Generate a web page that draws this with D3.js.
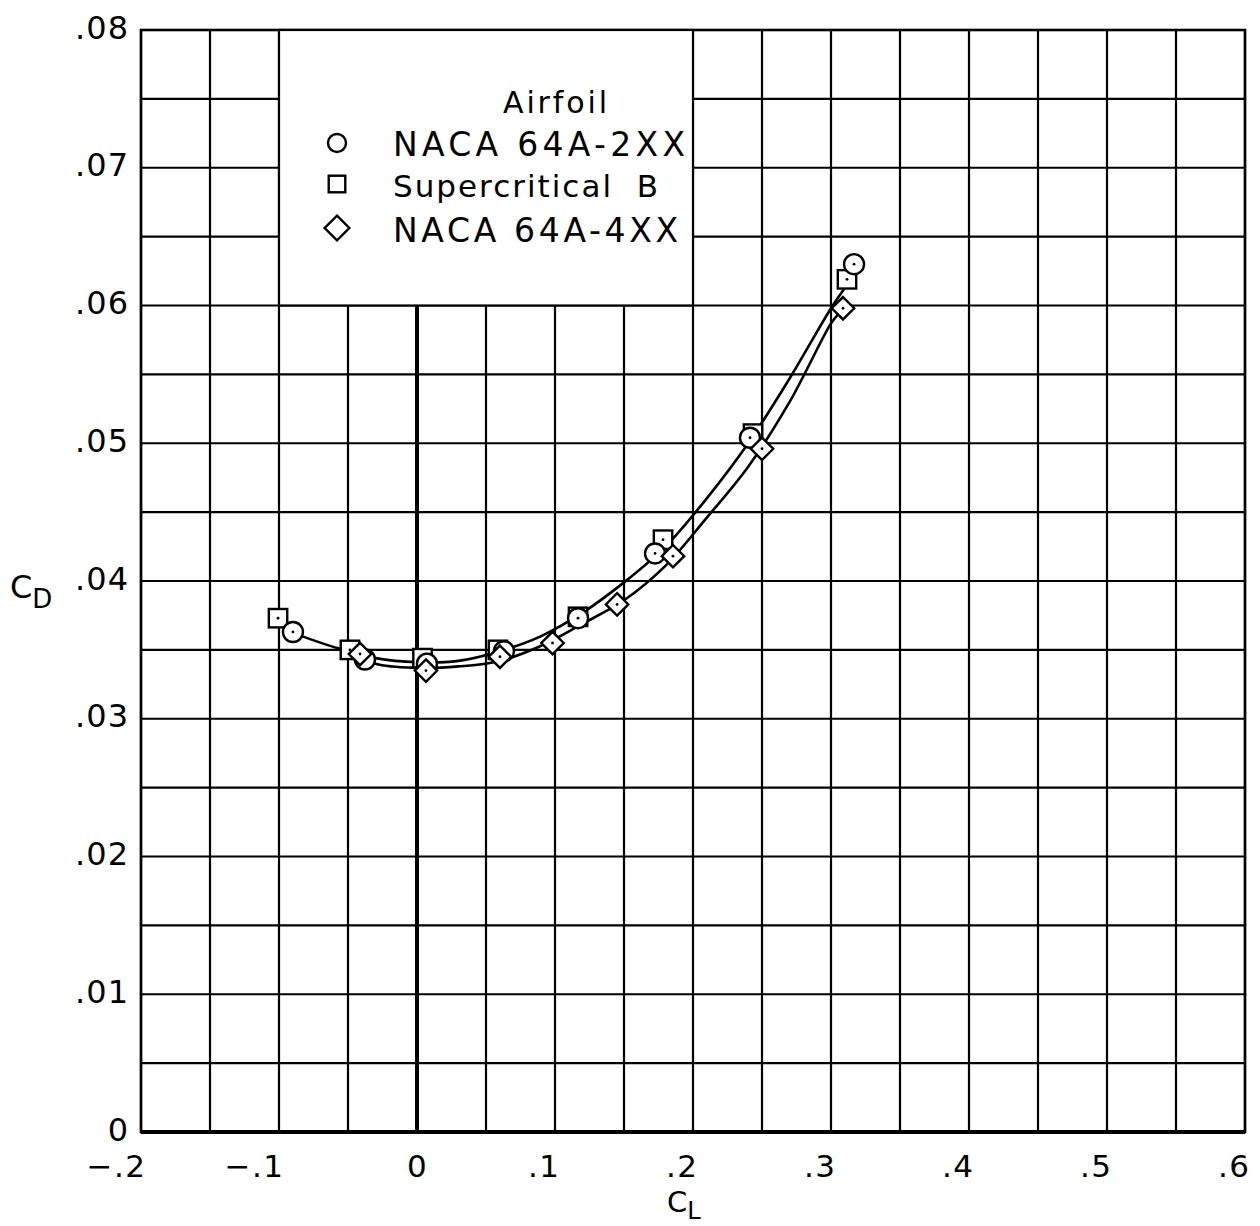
<!DOCTYPE html>
<html>
<head>
<meta charset="utf-8">
<script src="https://cdn.jsdelivr.net/npm/d3@7"></script>
<style>
  html, body { margin: 0; padding: 0; background: #fff; }
  svg { display: block; }
  text { font-family: "DejaVu Sans", sans-serif; fill: #000; }
</style>
</head>
<body>
<svg id="chart" width="1260" height="1226"></svg>
<script>
// ---- Data ----
const xTicks = [-0.2, -0.1, 0, 0.1, 0.2, 0.3, 0.4, 0.5, 0.6];
const xTickLabels = ["\u2212.2", "\u2212.1", "0", ".1", ".2", ".3", ".4", ".5", ".6"];
const yTicks = [0, 0.01, 0.02, 0.03, 0.04, 0.05, 0.06, 0.07, 0.08];
const yTickLabels = ["0", ".01", ".02", ".03", ".04", ".05", ".06", ".07", ".08"];

const seriesNames = ["NACA 64A-2XX", "Supercritical  B", "NACA 64A-4XX"];
const seriesSymbols = ["circle", "square", "diamond"];

// measured points [CL, CD]
const naca2xx = [
  [-0.0899, 0.0363], [-0.0377, 0.0343], [0.0072, 0.0340], [0.0630, 0.0349],
  [0.1167, 0.0373], [0.1725, 0.0420], [0.2413, 0.0504], [0.3167, 0.0630]
];
const superB = [
  [-0.1007, 0.0373], [-0.0486, 0.0350], [0.0040, 0.0344], [0.0587, 0.0350],
  [0.1167, 0.0374], [0.1783, 0.0430], [0.2435, 0.0507], [0.3116, 0.0619]
];
const naca4xx = [
  [-0.0413, 0.0347], [0.0065, 0.0335], [0.0601, 0.0345], [0.0982, 0.0355],
  [0.1450, 0.0383], [0.1855, 0.0418], [0.2500, 0.0496], [0.3087, 0.0598]
];

// faired curves [CL, CD]
const upperCurve = [
  [-0.0835, 0.0360], [-0.06, 0.0352], [-0.03, 0.0344], [0, 0.0341], [0.03, 0.0342],
  [0.06, 0.0349], [0.09, 0.0360], [0.12, 0.0377], [0.15, 0.0399], [0.18, 0.0425],
  [0.21, 0.0460], [0.24, 0.0500], [0.27, 0.0547], [0.30, 0.0598], [0.3095, 0.0612]
];
const lowerCurve = [
  [-0.05, 0.0350], [-0.03, 0.0340], [0, 0.0337], [0.03, 0.0338], [0.06, 0.0342],
  [0.09, 0.0353], [0.12, 0.0369], [0.15, 0.0386], [0.18, 0.0411], [0.21, 0.0446],
  [0.24, 0.0483], [0.27, 0.0530], [0.30, 0.0587], [0.3055, 0.0594]
];

// ---- Scales ----
const svg = d3.select("#chart");
const x = d3.scaleLinear().domain([-0.2, 0.6]).range([141, 1245]);
const y = d3.scaleLinear().domain([0, 0.08]).range([1132, 30]);

// ---- Grid ----
const gridX = d3.range(0, 17).map(i => -0.2 + i * 0.05);
const gridY = d3.range(0, 17).map(i => i * 0.005);
const grid = svg.append("g");
grid.selectAll("line.vx").data(gridX).join("line")
  .attr("x1", d => x(d)).attr("x2", d => x(d))
  .attr("y1", y(0.08)).attr("y2", y(0))
  .attr("stroke", "#000").attr("stroke-width", 2.2);
grid.selectAll("line.hy").data(gridY).join("line")
  .attr("x1", x(-0.2)).attr("x2", x(0.6))
  .attr("y1", d => y(d)).attr("y2", d => y(d))
  .attr("stroke", "#000").attr("stroke-width", 2.2);

// border
svg.append("rect")
  .attr("x", x(-0.2)).attr("y", y(0.08))
  .attr("width", x(0.6) - x(-0.2)).attr("height", y(0) - y(0.08))
  .attr("fill", "none").attr("stroke", "#000").attr("stroke-width", 2.6);
// heavy axes lines
svg.append("line")
  .attr("x1", x(-0.2)).attr("x2", x(0.6)).attr("y1", y(0)).attr("y2", y(0))
  .attr("stroke", "#000").attr("stroke-width", 4);
svg.append("line")
  .attr("x1", x(0)).attr("x2", x(0)).attr("y1", y(0.06)).attr("y2", y(0))
  .attr("stroke", "#000").attr("stroke-width", 4);

// ---- Legend box ----
svg.append("rect")
  .attr("x", x(-0.1)).attr("y", y(0.08))
  .attr("width", x(0.2) - x(-0.1)).attr("height", y(0.06) - y(0.08))
  .attr("fill", "#fff").attr("stroke", "#000").attr("stroke-width", 2.2);

// ---- Axis tick labels ----
const xAxis = d3.axisBottom(x).tickValues(xTicks).tickSize(0)
  .tickFormat((d, i) => xTickLabels[i]);
const gx = svg.append("g").attr("transform", `translate(0,${y(0)})`).call(xAxis);
gx.select(".domain").remove();
gx.selectAll("text")
  .attr("font-family", "DejaVu Sans").attr("font-size", 31)
  .attr("fill", "#000")
  .attr("y", 45).attr("dy", 0)
  .attr("text-anchor", (d) => d === 0 ? "middle" : "end")
  .attr("x", (d) => d === 0 ? 0 : 5)
  .style("letter-spacing", "1.5px");

const yAxis = d3.axisLeft(y).tickValues(yTicks).tickSize(0)
  .tickFormat((d, i) => yTickLabels[i]);
const gy = svg.append("g").attr("transform", `translate(${x(-0.2)},0)`).call(yAxis);
gy.select(".domain").remove();
gy.selectAll("text")
  .attr("font-family", "DejaVu Sans").attr("font-size", 32)
  .attr("fill", "#000")
  .attr("x", -12).attr("dy", 0).attr("y", 8)
  .attr("text-anchor", "end")
  .style("letter-spacing", "1px");

// axis titles
const cd = svg.append("text").attr("x", 10).attr("y", 598).attr("font-size", 32);
cd.append("tspan").text("C");
cd.append("tspan").attr("font-size", 26).attr("dy", 10).text("D");
const cl = svg.append("text").attr("x", 667).attr("y", 1212).attr("font-size", 29);
cl.append("tspan").text("C");
cl.append("tspan").attr("font-size", 24).attr("dy", 7).text("L");

// ---- Curves ----
const line = d3.line().x(d => x(d[0])).y(d => y(d[1])).curve(d3.curveCatmullRom.alpha(0.5));
svg.append("path").datum(upperCurve).attr("d", line)
  .attr("fill", "none").attr("stroke", "#000").attr("stroke-width", 2.6);
svg.append("path").datum(lowerCurve).attr("d", line)
  .attr("fill", "none").attr("stroke", "#000").attr("stroke-width", 2.6);

// ---- Markers ----
function drawMarker(g, type, cx, cy, size, dot) {
  if (type === "circle") {
    g.append("circle").attr("cx", cx).attr("cy", cy).attr("r", size)
      .attr("fill", "#fff").attr("stroke", "#000").attr("stroke-width", 2.4);
  } else if (type === "square") {
    g.append("rect").attr("x", cx - size * 0.92).attr("y", cy - size * 0.92)
      .attr("width", size * 1.84).attr("height", size * 1.84)
      .attr("fill", "#fff").attr("stroke", "#000").attr("stroke-width", 2.4);
  } else {
    const s = size * 1.12;
    g.append("path").attr("d", `M${cx},${cy - s}L${cx + s},${cy}L${cx},${cy + s}L${cx - s},${cy}Z`)
      .attr("fill", "#fff").attr("stroke", "#000").attr("stroke-width", 2.4);
  }
  if (dot) {
    g.append("circle").attr("cx", cx).attr("cy", cy).attr("r", 1.4).attr("fill", "#000");
  }
}
const marks = svg.append("g");
[[superB, "square"], [naca2xx, "circle"], [naca4xx, "diamond"]].forEach(([data, type]) => {
  data.forEach(d => drawMarker(marks, type, x(d[0]), y(d[1]), 10, true));
});

// ---- Legend content ----
const lg = svg.append("g");
lg.append("text").attr("x", 503).attr("y", 113).attr("font-size", 30)
  .attr("textLength", 104).attr("lengthAdjust", "spacing").text("Airfoil");
const legY = [156, 197, 242];
const legSym = [143, 184, 228];
const legW = [292, 265, 285];
const legFs = [33, 31, 33];
seriesNames.forEach((name, i) => {
  drawMarker(lg, seriesSymbols[i], 337, legSym[i], i === 2 ? 11 : 9, false);
  lg.append("text").attr("x", 393).attr("y", legY[i]).attr("font-size", legFs[i])
    .attr("textLength", legW[i]).attr("lengthAdjust", "spacing")
    .style("white-space", "pre").text(name);
});
</script>
</body>
</html>
